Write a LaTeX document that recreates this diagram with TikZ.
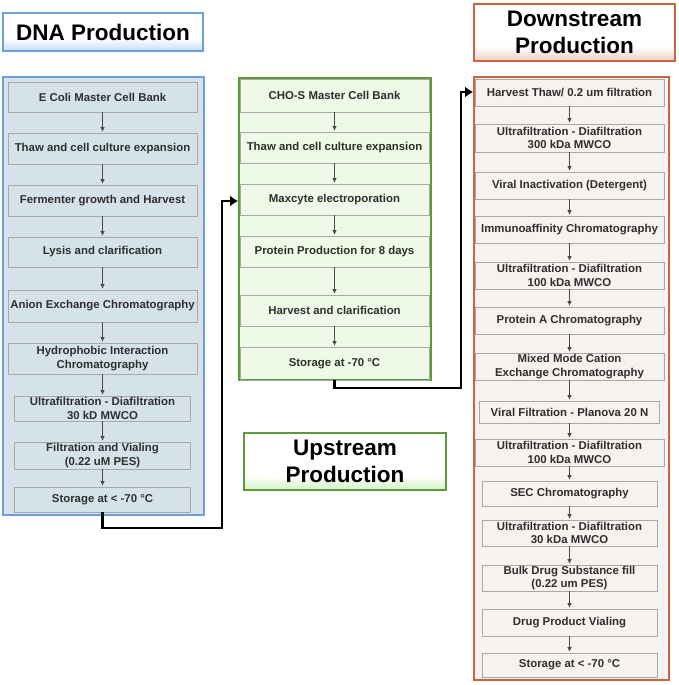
\documentclass[tikz,border=0pt]{standalone}
\usepackage{fontspec}
\setmainfont{Liberation Sans}
\usetikzlibrary{arrows.meta}
\definecolor{dnablue}{HTML}{6A9FDC}
\definecolor{dnafill}{HTML}{D6E2EA}
\definecolor{upgreen}{HTML}{5A9A3A}
\definecolor{upfill}{HTML}{EEF9E7}
\definecolor{downorange}{HTML}{CC6440}
\definecolor{downfill}{HTML}{F7F2EF}
\definecolor{stepborder}{HTML}{A8A8A8}
\definecolor{steptext}{HTML}{2E2E2E}
\definecolor{arrowgray}{HTML}{4A4A4A}
\definecolor{dnashadecol}{HTML}{C4DDF4}
\definecolor{upshadecol}{HTML}{D3F3C4}
\definecolor{downshadecol}{HTML}{EDCFC2}
\pgfdeclareverticalshading{dnashade}{100bp}{color(0bp)=(dnashadecol); color(25bp)=(dnashadecol); color(42bp)=(white); color(100bp)=(white)}
\pgfdeclareverticalshading{upshade}{100bp}{color(0bp)=(upshadecol); color(25bp)=(upshadecol); color(38bp)=(white); color(100bp)=(white)}
\pgfdeclareverticalshading{downshade}{100bp}{color(0bp)=(downshadecol); color(25bp)=(downshadecol); color(38bp)=(white); color(100bp)=(white)}
\begin{document}
\begin{tikzpicture}[x=1pt,y=-1pt,
  container/.style={draw=#1, line width=1.8pt, inner sep=0pt},
  stepbox/.style={draw=stepborder, line width=0.6pt, text=steptext,
    font=\fontsize{11.4}{13.5}\selectfont\bfseries, align=center, inner sep=0pt},
  titlebox/.style={draw=#1, line width=1.8pt, font=\fontsize{22.5}{27}\selectfont\bfseries,
    align=center, inner sep=0pt},
  flow/.style={draw=arrowgray, line width=0.6pt, -{Latex[length=4.5pt,width=4.5pt]}, shorten >=1pt},
  conn/.style={draw=black, line width=2.4pt, -{Latex[length=8pt,width=11pt]}}]
\useasboundingbox (0,0) rectangle (678,685);

% titles
\node[titlebox=dnablue, shading=dnashade, minimum width=200pt, minimum height=38pt] (dnaT) at (103,32) {DNA Production};
\node[titlebox=upgreen, shading=upshade, minimum width=202pt, minimum height=57pt] (upT) at (345,461.5) {Upstream\\Production};
\node[titlebox=downorange, shading=downshade, minimum width=201pt, minimum height=57pt] (downT) at (574.5,32.5) {Downstream\\Production};

% containers
\node[container=dnablue, fill=dnafill, minimum width=201pt, minimum height=438pt] (dnaC) at (103.5,296) {};
\node[container=upgreen, fill=upfill, minimum width=192pt, minimum height=302pt] (upC) at (335,229) {};
\node[container=downorange, fill=downfill, minimum width=195pt, minimum height=603pt] (downC) at (571.5,378.5) {};

% DNA steps
\node[stepbox, minimum width=189pt, minimum height=30pt] (l1) at (102.5,97) {E Coli Master Cell Bank};
\node[stepbox, minimum width=189pt, minimum height=31pt] (l2) at (102.5,148.5) {Thaw and cell culture expansion};
\node[stepbox, minimum width=189pt, minimum height=31pt] (l3) at (102.5,200.5) {Fermenter growth and Harvest};
\node[stepbox, minimum width=189pt, minimum height=30pt] (l4) at (102.5,252) {Lysis and clarification};
\node[stepbox, minimum width=189pt, minimum height=32pt] (l5) at (102.5,306) {Anion Exchange Chromatography};
\node[stepbox, minimum width=189pt, minimum height=31pt] (l6) at (102.5,358.5) {Hydrophobic Interaction\\Chromatography};
\node[stepbox, minimum width=176pt, minimum height=25pt] (l7) at (102.5,408.5) {Ultrafiltration - Diafiltration\\30 kD MWCO};
\node[stepbox, minimum width=176pt, minimum height=27pt] (l8) at (102.5,455.5) {Filtration and Vialing\\(0.22 uM PES)};
\node[stepbox, minimum width=176pt, minimum height=25pt] (l9) at (102.5,499.5) {Storage at < -70 °C};

% Upstream steps
\node[stepbox, minimum width=189pt, minimum height=33pt] (m1) at (334.5,95.5) {CHO-S Master Cell Bank};
\node[stepbox, minimum width=189pt, minimum height=31pt] (m2) at (334.5,147.5) {Thaw and cell culture expansion};
\node[stepbox, minimum width=189pt, minimum height=31pt] (m3) at (334.5,199.5) {Maxcyte electroporation};
\node[stepbox, minimum width=189pt, minimum height=31pt] (m4) at (334.5,251.5) {Protein Production for 8 days};
\node[stepbox, minimum width=189pt, minimum height=31pt] (m5) at (334.5,310.5) {Harvest and clarification};
\node[stepbox, minimum width=189pt, minimum height=33pt] (m6) at (334.5,363.5) {Storage at -70 °C};

% Downstream steps
\node[stepbox, minimum width=189pt, minimum height=27pt] (r1) at (569.5,92.5) {Harvest Thaw/ 0.2 um filtration};
\node[stepbox, minimum width=189pt, minimum height=28pt] (r2) at (569.5,138) {Ultrafiltration - Diafiltration\\300 kDa MWCO};
\node[stepbox, minimum width=189pt, minimum height=27pt] (r3) at (569.5,185.5) {Viral Inactivation (Detergent)};
\node[stepbox, minimum width=189pt, minimum height=27pt] (r4) at (569.5,229.5) {Immunoaffinity Chromatography};
\node[stepbox, minimum width=189pt, minimum height=27pt] (r5) at (569.5,275.5) {Ultrafiltration - Diafiltration\\100 kDa MWCO};
\node[stepbox, minimum width=189pt, minimum height=27pt] (r6) at (569.5,320.5) {Protein A Chromatography};
\node[stepbox, minimum width=189pt, minimum height=27pt] (r7) at (569.5,366.5) {Mixed Mode Cation\\Exchange Chromatography};
\node[stepbox, minimum width=180pt, minimum height=22pt] (r8) at (569.5,412) {Viral Filtration - Planova 20 N};
\node[stepbox, minimum width=189pt, minimum height=27pt] (r9) at (569.5,452.5) {Ultrafiltration - Diafiltration\\100 kDa MWCO};
\node[stepbox, minimum width=175pt, minimum height=25pt] (r10) at (569.5,493.5) {SEC Chromatography};
\node[stepbox, minimum width=175pt, minimum height=26pt] (r11) at (569.5,533) {Ultrafiltration - Diafiltration\\30 kDa MWCO};
\node[stepbox, minimum width=175pt, minimum height=26pt] (r12) at (569.5,578) {Bulk Drug Substance fill\\(0.22 um PES)};
\node[stepbox, minimum width=175pt, minimum height=27pt] (r13) at (569.5,622.5) {Drug Product Vialing};
\node[stepbox, minimum width=175pt, minimum height=24pt] (r14) at (569.5,665) {Storage at < -70 °C};

% flows within columns
\foreach \a/\b in {l1/l2,l2/l3,l3/l4,l4/l5,l5/l6,l6/l7,l7/l8,l8/l9,
                   m1/m2,m2/m3,m3/m4,m4/m5,m5/m6,
                   r1/r2,r2/r3,r3/r4,r4/r5,r5/r6,r6/r7,r7/r8,r8/r9,r9/r10,r10/r11,r11/r12,r12/r13,r13/r14}
  \draw[flow] (\a.south) -- (\b.north);

% connectors between columns
\coordinate (j1) at (222,528);
\coordinate (j2) at (222,201);
\draw[conn] (l9.south) |- (j1) -- (j2) -- (j2 -| upC.west);
\coordinate (j3) at (461,388);
\coordinate (j4) at (461,92);
\draw[conn] (m6.south) |- (j3) -- (j4) -- (j4 -| downC.west);
\end{tikzpicture}
\end{document}
